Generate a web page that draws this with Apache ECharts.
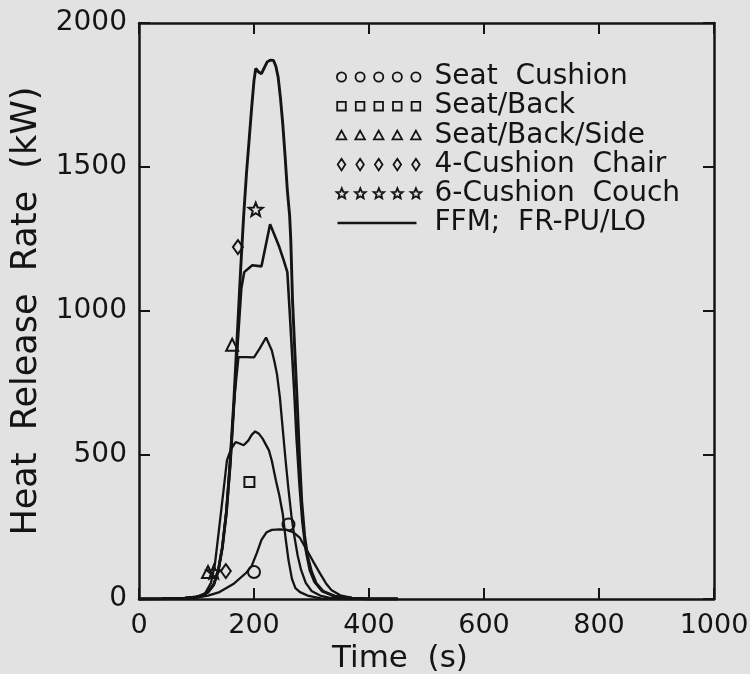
<!DOCTYPE html>
<html>
<head>
<meta charset="utf-8">
<script src="https://cdn.jsdelivr.net/npm/echarts@6/dist/echarts.min.js"></script>
<style>
  html, body { margin: 0; padding: 0; background: #e2e2e2; }
  #chart { width: 750px; height: 674px; }
</style>
</head>
<body>
<div id="chart"></div>
<script>
// ---------------- DATA ----------------
const xTicks = [0, 200, 400, 600, 800, 1000];
const yTicks = [0, 500, 1000, 1500, 2000];

const xTitle = 'Time  (s)';
const yTitle = 'Heat  Release  Rate  (kW)';

const experimentNames = ['Seat Cushion', 'Seat/Back', 'Seat/Back/Side', '4-Cushion Chair', '6-Cushion Couch'];
const modelName = 'FFM; FR-PU/LO';

// measured points (time s, HRR kW)
const seatCushionExp = [[200, 94], [260, 259]];
const seatBackExp = [[192, 406]];
const seatBackSideExp = [[162, 883], [120, 94]];
const chairExp = [[172, 1222], [151, 97]];
const couchExp = [[203, 1353], [130, 94]];

// model curves (time s, HRR kW)
const seatCushionModel = [[0,0],[50,1],[100,5],[120,12],[140,24],[164,52],[187,92],[196,115],[205,160],[213,205],[222,232],[231,240],[245,242],[257,240],[268,232],[280,212],[294,162],[303,130],[315,88],[325,55],[335,30],[350,13],[370,4],[400,0],[450,0]];
const seatBackModel = [[0,0],[40,1],[80,3],[100,8],[115,20],[125,55],[132,120],[139,239],[146,360],[153,482],[160,520],[168,545],[175,540],[182,534],[190,550],[196,570],[202,582],[208,575],[215,557],[226,516],[231,480],[238,412],[244,360],[250,296],[255,210],[260,135],[266,70],[272,38],[280,24],[293,12],[316,2],[340,0],[450,0]];
const seatBackSideModel = [[0,0],[40,1],[80,3],[100,7],[110,12],[120,24],[130,50],[138,100],[145,180],[152,310],[159,500],[166,700],[173,840],[186,840],[200,839],[210,870],[221,908],[231,863],[236,820],[240,780],[245,700],[250,590],[255,480],[260,380],[265,290],[270,220],[276,150],[282,100],[290,56],[300,28],[315,12],[330,5],[360,0],[450,0]];
const chairModel = [[0,0],[40,1],[80,3],[100,7],[110,12],[120,24],[130,50],[138,100],[145,180],[152,300],[159,470],[166,700],[172,900],[178,1080],[183,1135],[197,1159],[213,1155],[228,1301],[236,1262],[244,1222],[251,1180],[258,1135],[262,1000],[266,860],[270,720],[274,560],[279,400],[284,270],[290,170],[297,100],[305,60],[318,28],[340,10],[370,3],[400,0],[450,0]];
const couchModel = [[0,0],[40,1],[80,3],[100,7],[110,12],[120,24],[130,50],[138,100],[145,180],[152,300],[158,460],[165,690],[171,921],[177,1153],[182,1330],[187,1480],[191.5,1593],[196,1708],[200,1800],[203,1842],[208,1830],[213,1824],[218,1845],[223,1865],[228,1871],[234,1870],[238,1850],[242,1812],[246,1740],[250,1650],[254,1540],[258,1419],[262,1330],[264,1245],[267,1037],[271,860],[275,690],[279,500],[283,340],[288,220],[293,150],[300,95],[308,55],[320,27],[340,10],[370,3],[400,0],[450,0]];

// ---------------- STYLE ----------------
const FONT = 'DejaVu Sans';
const INK = '#141414';

function starPath(cx, cy, R, r) {
  let d = '';
  for (let i = 0; i < 10; i++) {
    const rad = (i % 2 === 0) ? R : r;
    const a = -Math.PI / 2 + i * Math.PI / 5;
    const x = cx + rad * Math.cos(a), y = cy + rad * Math.sin(a);
    d += (i === 0 ? 'M' : 'L') + x.toFixed(2) + ' ' + y.toFixed(2) + ' ';
  }
  return d + 'Z ';
}
const starSymbol = 'path://' + starPath(10, 10, 10, 4.3);

// legend icons: five markers in a row, box 93 x 12
const LW = 93, LH = 12;
const legendCenters = [5, 23.6, 42.2, 60.8, 79.4];
function legendIcon(kind) {
  let d = 'M0 0 ';
  legendCenters.forEach(cx => {
    const cy = 6;
    if (kind === 'circle') {
      const r = 4.6;
      d += `M${cx + r} ${cy} A${r} ${r} 0 1 0 ${cx - r} ${cy} A${r} ${r} 0 1 0 ${cx + r} ${cy} Z `;
    } else if (kind === 'rect') {
      d += `M${cx - 4.3} ${cy - 4.3} L${cx + 4.3} ${cy - 4.3} L${cx + 4.3} ${cy + 4.3} L${cx - 4.3} ${cy + 4.3} Z `;
    } else if (kind === 'triangle') {
      d += `M${cx} ${cy - 4.8} L${cx + 4.8} ${cy + 4} L${cx - 4.8} ${cy + 4} Z `;
    } else if (kind === 'diamond') {
      d += `M${cx} ${cy - 5.8} L${cx + 3.8} ${cy} L${cx} ${cy + 5.8} L${cx - 3.8} ${cy} Z `;
    } else if (kind === 'star') {
      d += starPath(cx, cy, 5.6, 2.5);
    }
  });
  if (kind === 'line') d += `M1 6 L80 6 `;
  d += `M${LW} ${LH}`;
  return 'path://' + d;
}

const expSets = [seatCushionExp, seatBackExp, seatBackSideExp, chairExp, couchExp];
const expSymbols = ['circle', 'rect', 'triangle', 'diamond', starSymbol];
const expSizes = [12, 10, 12, [10, 14], 14];
const legendKinds = ['circle', 'rect', 'triangle', 'diamond', 'star'];

const modelSets = [seatCushionModel, seatBackModel, seatBackSideModel, chairModel, couchModel];
const modelWidths = [2.3, 2.3, 2.3, 2.6, 2.9];

const series = [];
modelSets.forEach((d, i) => {
  series.push({
    name: modelName,
    type: 'line',
    data: d,
    symbol: 'none',
    showSymbol: false,
    smooth: false,
    lineStyle: { color: INK, width: modelWidths[i] },
    itemStyle: { color: INK },
    emphasis: { disabled: true },
    silent: true,
    z: 3
  });
});
expSets.forEach((d, i) => {
  series.push({
    name: experimentNames[i],
    type: 'scatter',
    data: d,
    symbol: expSymbols[i],
    symbolSize: expSizes[i],
    symbolKeepAspect: true,
    itemStyle: { color: 'none', borderColor: INK, borderWidth: 2, opacity: 1 },
    emphasis: { disabled: true },
    silent: true,
    z: 5
  });
});

const legendData = experimentNames.map((n, i) => ({
  name: n,
  icon: legendIcon(legendKinds[i]),
  itemStyle: { color: 'none', borderColor: INK, borderWidth: 1.8 }
}));
legendData.push({
  name: modelName,
  icon: legendIcon('line'),
  itemStyle: { color: 'none', borderColor: INK, borderWidth: 2.3 }
});

const axisLineStyle = { show: true, onZero: false, lineStyle: { color: INK, width: 2.5 } };
const tickStyle = { show: true, inside: true, length: 11, lineStyle: { color: INK, width: 2 } };

const xMin = xTicks[0], xMax = xTicks[xTicks.length - 1], xInt = xTicks[1] - xTicks[0];
const yMin = yTicks[0], yMax = yTicks[yTicks.length - 1], yInt = yTicks[1] - yTicks[0];

const option = {
  backgroundColor: '#e2e2e2',
  animation: false,
  textStyle: { fontFamily: FONT },
  grid: { left: 139, top: 23, width: 575, height: 576, containLabel: false, outerBoundsMode: 'none', show: false },
  legend: {
    show: true,
    orient: 'vertical',
    left: 329,
    top: 58,
    itemWidth: LW,
    itemHeight: LH,
    itemGap: 1.2,
    selectedMode: false,
    data: legendData,
    formatter: n => n.replace(/ /g, '  '),
    textStyle: { fontFamily: FONT, fontSize: 28, color: INK, lineHeight: 28 }
  },
  xAxis: [
    {
      type: 'value', min: xMin, max: xMax, interval: xInt, position: 'bottom',
      axisLine: axisLineStyle, axisTick: tickStyle,
      axisLabel: { margin: 13, fontFamily: FONT, fontSize: 27, color: INK, formatter: v => String(v) },
      splitLine: { show: false },
      name: xTitle, nameLocation: 'middle', nameGap: 44,
      nameTextStyle: { fontFamily: FONT, fontSize: 31, color: INK, padding: [0, 53, 0, 0] }
    },
    {
      type: 'value', min: xMin, max: xMax, interval: xInt, position: 'top',
      axisLine: axisLineStyle, axisTick: tickStyle,
      axisLabel: { show: false }, splitLine: { show: false }
    }
  ],
  yAxis: [
    {
      type: 'value', min: yMin, max: yMax, interval: yInt, position: 'left',
      axisLine: axisLineStyle, axisTick: tickStyle,
      axisLabel: { margin: 12, fontFamily: FONT, fontSize: 28, color: INK, formatter: v => String(v) },
      splitLine: { show: false },
      name: yTitle, nameLocation: 'middle', nameGap: 91,
      nameTextStyle: { fontFamily: FONT, fontSize: 35, color: INK }
    },
    {
      type: 'value', min: yMin, max: yMax, interval: yInt, position: 'right',
      axisLine: axisLineStyle, axisTick: tickStyle,
      axisLabel: { show: false }, splitLine: { show: false }
    }
  ],
  series: series
};

const chart = echarts.init(document.getElementById('chart'), null, { renderer: 'canvas' });
chart.setOption(option);
</script>
</body>
</html>
